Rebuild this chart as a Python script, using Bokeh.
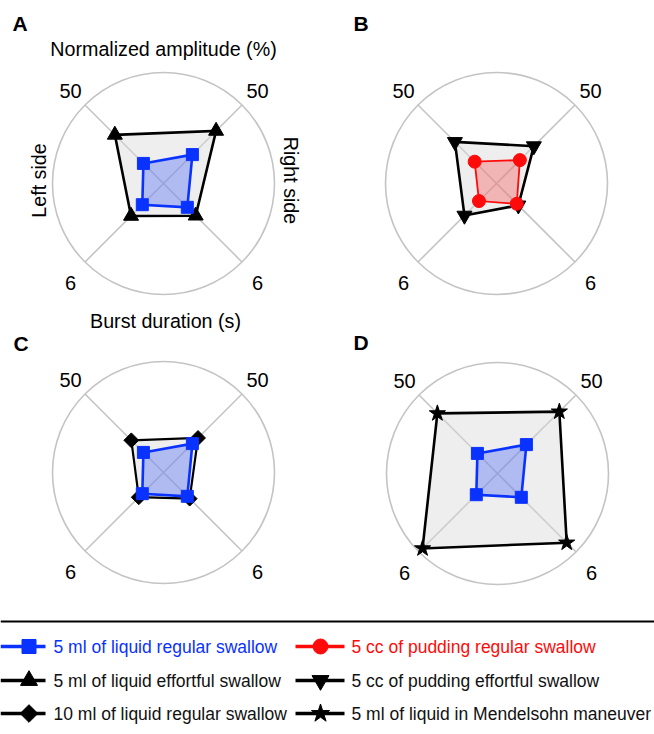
import numpy as np
from bokeh.plotting import figure
from bokeh.models import Range1d
from bokeh.core.properties import value
from bokeh.embed import file_html
from bokeh.resources import INLINE

# ---------------- data ----------------
# radar axes, in drawing order: top-left, top-right, bottom-right, bottom-left
axis_names = ["Left amplitude", "Right amplitude", "Right burst duration", "Left burst duration"]
axis_max = [50, 50, 6, 6]
tick_labels = ["50", "50", "6", "6"]

liquid_regular = [12.8, 18.4, 1.82, 1.62]      # 5 ml of liquid regular swallow
liquid_effortful = [31.0, 33.5, 2.46, 2.48]    # 5 ml of liquid effortful swallow
pudding_regular = [13.9, 14.9, 1.55, 1.34]     # 5 cc of pudding regular swallow
pudding_effortful = [26.5, 23.8, 1.67, 2.45]   # 5 cc of pudding effortful swallow
liquid_10ml = [20.5, 22.0, 2.00, 1.89]         # 10 ml of liquid regular swallow
mendelsohn = [38.3, 39.4, 5.29, 5.73]          # 5 ml of liquid in Mendelsohn maneuver

series_labels = ["5 ml of liquid regular swallow", "5 cc of pudding regular swallow",
                 "5 ml of liquid effortful swallow", "5 cc of pudding effortful swallow",
                 "10 ml of liquid regular swallow", "5 ml of liquid in Mendelsohn maneuver"]
panel_letters = ["A", "B", "C", "D"]

# ---------------- styles ----------------
FONT = value("Liberation Sans")
BLUE = "#0a32ff"
RED = "#ff0a0a"
GRID = "#c4c4c4"
R = 111.0

styles = {
    "liquid_regular": dict(color=BLUE, fill=BLUE, alpha=0.27, lw=2.6, marker="square", size=12, angle=0.0),
    "pudding_regular": dict(color=RED, fill=RED, alpha=0.25, lw=1.8, marker="circle", size=13, angle=0.0),
    "liquid_effortful": dict(color="black", fill="#d9d9d9", alpha=0.45, lw=2.6, marker="triangle", size=15, angle=0.0),
    "pudding_effortful": dict(color="black", fill="#d9d9d9", alpha=0.45, lw=2.6, marker="inverted_triangle", size=15, angle=0.0),
    "liquid_10ml": dict(color="black", fill="#d9d9d9", alpha=0.45, lw=2.2, marker="square", size=10.5, angle=np.pi / 4),
    "mendelsohn": dict(color="black", fill="#d9d9d9", alpha=0.45, lw=2.6, marker="star", size=17, angle=0.0),
}
series_data = {
    "liquid_regular": liquid_regular, "pudding_regular": pudding_regular,
    "liquid_effortful": liquid_effortful, "pudding_effortful": pudding_effortful,
    "liquid_10ml": liquid_10ml, "mendelsohn": mendelsohn,
}

panels = [
    dict(letter="A", c=(163, 183), series=["liquid_effortful", "liquid_regular"]),
    dict(letter="B", c=(496, 183), series=["pudding_effortful", "pudding_regular"]),
    dict(letter="C", c=(163, 472), series=["liquid_10ml", "liquid_regular"]),
    dict(letter="D", c=(497, 473), series=["mendelsohn", "liquid_regular"]),
]
letter_pos = {"A": (12, 23), "B": (353, 23), "C": (13, 343), "D": (353, 342)}

# unit directions of the four axes (screen: y grows downward)
s2 = np.sqrt(0.5)
dirs = np.array([[-s2, -s2], [s2, -s2], [s2, s2], [-s2, s2]])
label_off = [(-93, -93), (94, -93), (94, 99), (-93, 99)]

W, H = 654, 728
p = figure(width=W, height=H, x_range=Range1d(0, W), y_range=Range1d(H, 0),
           output_backend="svg", toolbar_location=None, min_border=0,
           x_axis_type=None, y_axis_type=None)
p.grid.visible = False
p.outline_line_color = None
p.background_fill_color = "white"


def txt(x, y, s, size="20px", color="black", align="center", baseline="middle", angle=0.0, style="normal"):
    p.text(x=[x], y=[y], text=[s], text_font=FONT, text_font_size=size, text_color=color,
           text_align=align, text_baseline=baseline, angle=angle, text_font_style=style)


for pan in panels:
    cx, cy = pan["c"]
    # circle + diagonals
    p.circle(x=[cx], y=[cy], radius=R, fill_color=None, line_color=GRID, line_width=1.6)
    for d in dirs:
        p.line([cx, cx + d[0] * R], [cy, cy + d[1] * R], line_color=GRID, line_width=1.6)
    # tick labels
    for (ox, oy), t in zip(label_off, tick_labels):
        txt(cx + ox, cy + oy, t, size="20px")
    # series
    coords = {}
    for key in pan["series"]:
        vals = np.array(series_data[key], dtype=float) / np.array(axis_max, dtype=float) * R
        xs = cx + vals * dirs[:, 0]
        ys = cy + vals * dirs[:, 1]
        coords[key] = (xs, ys)
        st = styles[key]
        p.patch(list(xs), list(ys), fill_color=st["fill"], fill_alpha=st["alpha"],
                line_color=st["color"], line_width=st["lw"], line_join="miter")
    for key in pan["series"]:
        xs, ys = coords[key]
        st = styles[key]
        p.scatter(list(xs), list(ys), marker=st["marker"], size=st["size"], angle=st["angle"],
                  fill_color=st["color"], line_color=st["color"], line_width=1)
    lx, ly = letter_pos[pan["letter"]]
    txt(lx, ly, pan["letter"], size="21px", align="left", style="bold")

# panel A axis titles
txt(163, 48, "Normalized amplitude (%)", size="19.7px")
txt(165, 320, "Burst duration (s)", size="19.7px")
txt(38, 180, "Left side", size="19.7px", angle=np.pi / 2)
txt(290, 180, "Right side", size="19.7px", angle=-np.pi / 2)

# ---------------- legend ----------------
p.line([0, 654], [621, 621], line_color="black", line_width=2)
legend_keys = ["liquid_regular", "pudding_regular", "liquid_effortful", "pudding_effortful",
               "liquid_10ml", "mendelsohn"]
row_y = [646, 680, 713]
col_line = [(0, 45, 28.5, 53), (295, 344, 320, 351)]
for i, key in enumerate(legend_keys):
    st = styles[key]
    r, c = divmod(i, 2)
    x0, x1, xm, xt = col_line[c]
    y = row_y[r]
    p.line([x0, x1], [y, y], line_color=st["color"], line_width=3.5)
    size = st["size"] + 2
    p.scatter([xm], [y], marker=st["marker"], size=size, angle=st["angle"],
              fill_color=st["color"], line_color=st["color"])
    tcol = st["color"] if st["color"] != "black" else "#111111"
    txt(xt, y, series_labels[i], size="17.5px", color=tcol, align="left")

open("out.html", "w").write(file_html(p, INLINE))
